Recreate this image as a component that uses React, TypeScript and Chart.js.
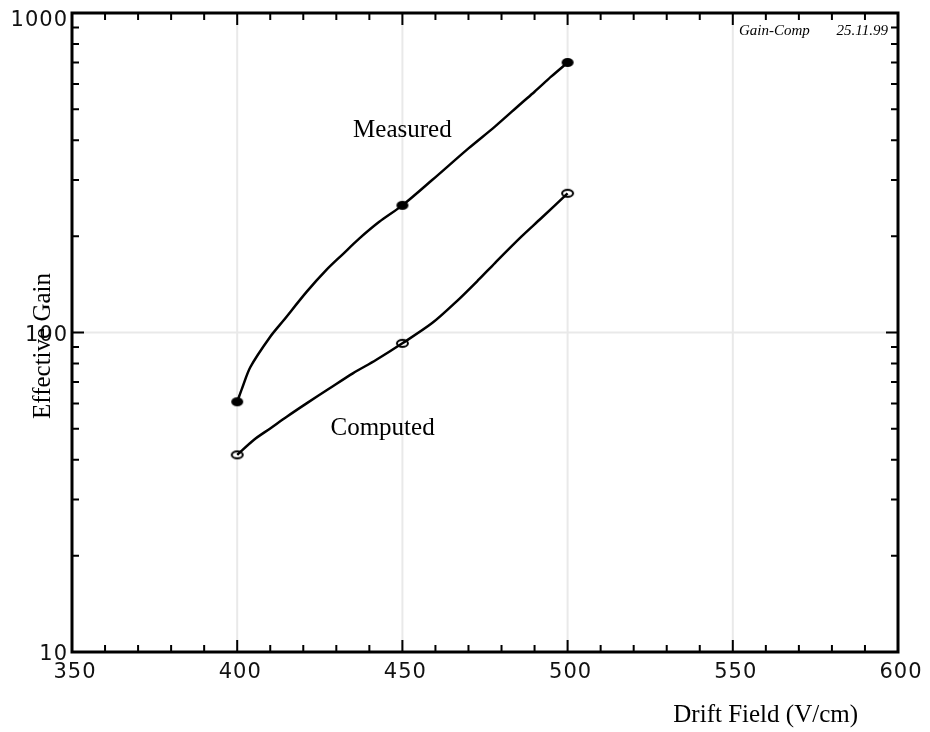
import React, { useEffect, useRef } from "react";
import { Chart, registerables } from "chart.js";

Chart.register(...registerables);

// ---- data ----
const measuredCurveField = [400, 401.5, 404, 410, 414, 421, 427, 432, 437, 443, 450, 459, 470, 478, 486, 490, 495, 500];
const measuredCurveGain = [60.7, 67, 78, 97, 109, 134, 157, 176, 197, 222, 250, 300, 377, 441, 522, 567, 632, 700];

const computedCurveField = [400, 405, 410, 415, 421, 428, 435, 442, 450, 459, 466, 473, 478, 486, 492, 500];
const computedCurveGain = [41.4, 46.1, 50.1, 54.5, 60, 66.9, 74.5, 82, 92.5, 107, 124, 146, 165, 199.5, 227.8, 272.7];

const markerField = [400, 450, 500];
const measuredMarkerGain = [60.7, 250, 700];
const computedMarkerGain = [41.4, 92.5, 272.7];

const xTickLabels = [350, 400, 450, 500, 550, 600];
const yTickLabels = [10, 100, 1000];
const xMinorStep = 10;

const annotationText = ["Measured", "Computed"];
const annotationField = [450, 444];
const annotationGain = [410, 47.8];

const xTitle = "Drift Field (V/cm)";
const yTitle = "Effective Gain";
const stampName = "Gain-Comp";
const stampDate = "25.11.99";

function makeEllipse(w: number, h: number, filled: boolean): HTMLCanvasElement {
  const c = document.createElement("canvas");
  c.width = w + 4;
  c.height = h + 4;
  const g = c.getContext("2d")!;
  g.beginPath();
  g.ellipse(c.width / 2, c.height / 2, w / 2, h / 2, 0, 0, Math.PI * 2);
  if (filled) {
    g.fillStyle = "#000";
    g.fill();
  } else {
    g.fillStyle = "#fff";
    g.fill();
    g.lineWidth = 2;
    g.strokeStyle = "#000";
    g.stroke();
  }
  return c;
}

const framePlugin = {
  id: "framePlugin",
  beforeDatasetsDraw(chart: any) {
    const { ctx, chartArea: a, scales } = chart;
    const x = scales.x;
    const y = scales.y;
    ctx.save();
    ctx.strokeStyle = "#e9e9e9";
    ctx.lineWidth = 2;
    for (const v of xTickLabels) {
      if (v <= x.min || v >= x.max) continue;
      const px = x.getPixelForValue(v);
      ctx.beginPath();
      ctx.moveTo(px, a.top);
      ctx.lineTo(px, a.bottom);
      ctx.stroke();
    }
    for (const v of yTickLabels) {
      if (v <= y.min || v >= y.max) continue;
      const py = y.getPixelForValue(v);
      ctx.beginPath();
      ctx.moveTo(a.left, py);
      ctx.lineTo(a.right, py);
      ctx.stroke();
    }
    ctx.restore();
  },
  afterDraw(chart: any) {
    const { ctx, chartArea: a, scales } = chart;
    const x = scales.x;
    const y = scales.y;
    ctx.save();
    // ticks
    ctx.strokeStyle = "#000";
    ctx.lineWidth = 2;
    const majorLen = 12;
    const minorLen = 7;
    for (let v = x.min; v <= x.max + 1e-9; v += xMinorStep) {
      const px = x.getPixelForValue(v);
      const major = xTickLabels.includes(Math.round(v));
      const len = major ? majorLen : minorLen;
      ctx.beginPath();
      ctx.moveTo(px, a.bottom);
      ctx.lineTo(px, a.bottom - len);
      ctx.moveTo(px, a.top);
      ctx.lineTo(px, a.top + len);
      ctx.stroke();
    }
    for (let d = 10; d < y.max; d *= 10) {
      for (let k = 1; k <= 9; k++) {
        const v = d * k;
        if (v < y.min || v > y.max) continue;
        const py = y.getPixelForValue(v);
        const len = k === 1 ? majorLen : minorLen;
        ctx.beginPath();
        ctx.moveTo(a.left, py);
        ctx.lineTo(a.left + len, py);
        ctx.moveTo(a.right, py);
        ctx.lineTo(a.right - len, py);
        ctx.stroke();
      }
    }
    // border
    ctx.lineWidth = 3;
    ctx.strokeRect(a.left, a.top, a.right - a.left, a.bottom - a.top);

    // tick labels
    ctx.fillStyle = "#111";
    ctx.font = '21px "DejaVu Sans"';
    (ctx as any).letterSpacing = "1px";
    ctx.textBaseline = "middle";
    ctx.textAlign = "center";
    for (const v of xTickLabels) {
      const px = x.getPixelForValue(v);
      ctx.fillText(String(v), px + 3, a.bottom + 21);
    }
    ctx.textAlign = "right";
    for (const v of yTickLabels) {
      const py = y.getPixelForValue(v);
      ctx.fillText(String(v), a.left - 4, Math.max(py + 3, a.top + 8));
    }
    (ctx as any).letterSpacing = "0px";

    // axis titles
    ctx.fillStyle = "#000";
    ctx.font = '25px "Liberation Serif"';
    ctx.textBaseline = "alphabetic";
    ctx.textAlign = "right";
    ctx.fillText(xTitle, a.right - 40, a.bottom + 70);
    ctx.save();
    ctx.translate(50, 346);
    ctx.rotate(-Math.PI / 2);
    ctx.textAlign = "center";
    ctx.fillText(yTitle, 0, 0);
    ctx.restore();

    // curve annotations
    ctx.textAlign = "center";
    ctx.font = '25px "Liberation Serif"';
    for (let i = 0; i < annotationText.length; i++) {
      ctx.fillText(
        annotationText[i],
        x.getPixelForValue(annotationField[i]),
        y.getPixelForValue(annotationGain[i])
      );
    }

    // stamp
    ctx.font = 'italic 15px "Liberation Serif"';
    ctx.textAlign = "left";
    ctx.fillText(stampName, a.right - 159, a.top + 22);
    ctx.textAlign = "right";
    ctx.fillText(stampDate, a.right - 10, a.top + 22);
    ctx.restore();
  },
};

export default function App() {
  const ref = useRef<HTMLCanvasElement | null>(null);
  useEffect(() => {
    if (!ref.current) return;
    const filledMarker = makeEllipse(12, 9, true);
    const openMarker = makeEllipse(11, 7, false);
    const chart = new Chart(ref.current, {
      type: "scatter",
      data: {
        datasets: [
          {
            label: "Measured curve",
            data: measuredCurveField.map((f, i) => ({ x: f, y: measuredCurveGain[i] })),
            showLine: true,
            borderColor: "#000",
            borderWidth: 2.5,
            pointRadius: 0,
            tension: 0.3,
          },
          {
            label: "Computed curve",
            data: computedCurveField.map((f, i) => ({ x: f, y: computedCurveGain[i] })),
            showLine: true,
            borderColor: "#000",
            borderWidth: 2.5,
            pointRadius: 0,
            tension: 0.3,
          },
          {
            label: "Measured",
            data: markerField.map((f, i) => ({ x: f, y: measuredMarkerGain[i] })),
            showLine: false,
            pointStyle: filledMarker as any,
            pointRadius: 6,
          },
          {
            label: "Computed",
            data: markerField.map((f, i) => ({ x: f, y: computedMarkerGain[i] })),
            showLine: false,
            pointStyle: openMarker as any,
            pointRadius: 6,
          },
        ],
      },
      options: {
        animation: false,
        responsive: false,
        devicePixelRatio: 1,
        layout: { padding: { left: 72, right: 32, top: 13, bottom: 80 } },
        plugins: { legend: { display: false }, tooltip: { enabled: false } },
        scales: {
          x: { type: "linear", min: 350, max: 600, display: false },
          y: { type: "logarithmic", min: 10, max: 1000, display: false },
        },
      },
      plugins: [framePlugin],
    });
    return () => chart.destroy();
  }, []);
  return (
    <div style={{ position: "fixed", left: 0, top: 0, width: 930, height: 732, background: "#fff" }}>
      <canvas ref={ref} width={930} height={732} />
    </div>
  );
}
